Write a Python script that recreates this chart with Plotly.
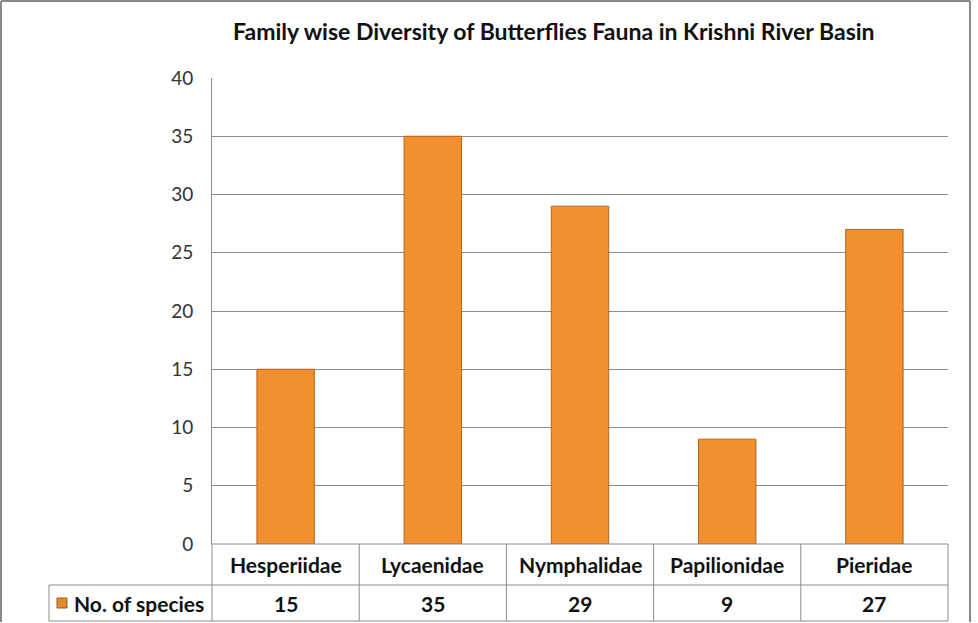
import plotly.graph_objects as go

families = ["Hesperiidae", "Lycaenidae", "Nymphalidae", "Papilionidae", "Pieridae"]
species = [15, 35, 29, 9, 27]
series_name = "No. of species"
y_ticks = [0, 5, 10, 15, 20, 25, 30, 35, 40]
title_text = "Family wise Diversity of Butterflies Fauna in Krishni River Basin"

W, H = 978, 623
L, R, T, B = 212, 948, 78, 544  # plot area in pixels

def px(x):
    return (x - L) / (R - L)

def py(y):
    return (B - y) / (B - T)

FONT = "Lato"
GRID = "#8c8c8c"
BAR = "#F28F2E"

fig = go.Figure()
fig.add_trace(go.Bar(
    x=families, y=species, name=series_name,
    width=0.39,
    marker=dict(color=BAR, line=dict(color="#B5651D", width=1)),
    showlegend=False,
))

shapes = []
def line(x0, y0, x1, y1, color=GRID, w=1):
    shapes.append(dict(type="line", xref="paper", yref="paper",
                       x0=px(x0), y0=py(y0), x1=px(x1), y1=py(y1),
                       line=dict(color=color, width=w), layer="above"))

# outer chart border
line(1, 1, 970, 1, "#8a8a8a", 2)
line(1, 1, 1, 622, "#8a8a8a", 2)
line(970, 1, 970, 622, "#8a8a8a", 2)

# data table grid
row1, row2, row3 = 544, 585, 621
line(L, row1, R, row1)
line(49, row2, R, row2)
line(49, row3, R, row3)
line(49, row2, 49, row3)
ncol = len(families)
for i in range(ncol + 1):
    xx = L + (R - L) * i / ncol
    line(xx, row1, xx, row3)

# legend key in the table
shapes.append(dict(type="rect", xref="paper", yref="paper",
                   x0=px(57), x1=px(67), y0=py(598), y1=py(608),
                   fillcolor="#E38A2C", line=dict(color="#9A5A22", width=1), layer="above"))

annotations = []
annotations.append(dict(text="<b>" + title_text + "</b>", xref="paper", yref="paper",
                        x=px(554), y=py(31), showarrow=False,
                        font=dict(family=FONT, size=23, color="#111111"),
                        xanchor="center", yanchor="middle"))
annotations.append(dict(text="<b>" + series_name + "</b>", xref="paper", yref="paper",
                        x=px(72), y=py((row2 + row3) / 2), showarrow=False,
                        font=dict(family=FONT, size=21, color="#111111"),
                        xanchor="left", yanchor="middle"))
for f, v in zip(families, species):
    annotations.append(dict(text="<b>" + f + "</b>", xref="x", yref="paper",
                            x=f, y=py((row1 + row2) / 2), showarrow=False,
                            font=dict(family=FONT, size=21, color="#111111"),
                            xanchor="center", yanchor="middle"))
    annotations.append(dict(text="<b>" + str(v) + "</b>", xref="x", yref="paper",
                            x=f, y=py((row2 + row3) / 2), showarrow=False,
                            font=dict(family=FONT, size=21, color="#111111"),
                            xanchor="center", yanchor="middle"))

fig.update_layout(
    width=W, height=H,
    margin=dict(l=L, r=W - R, t=T, b=H - B, autoexpand=False),
    paper_bgcolor="white", plot_bgcolor="white",
    shapes=shapes, annotations=annotations,
    showlegend=False,
    xaxis=dict(showticklabels=False, showgrid=False, zeroline=False, showline=False,
               ticks=""),
    yaxis=dict(range=[0, 40], tickvals=y_ticks, showgrid=True, gridcolor=GRID,
               gridwidth=1, zeroline=False, showline=True, linecolor=GRID,
               ticks="", ticklabelstandoff=14,
               tickfont=dict(family=FONT, size=19, color="#333333")),
)

fig.write_html("out.html")
